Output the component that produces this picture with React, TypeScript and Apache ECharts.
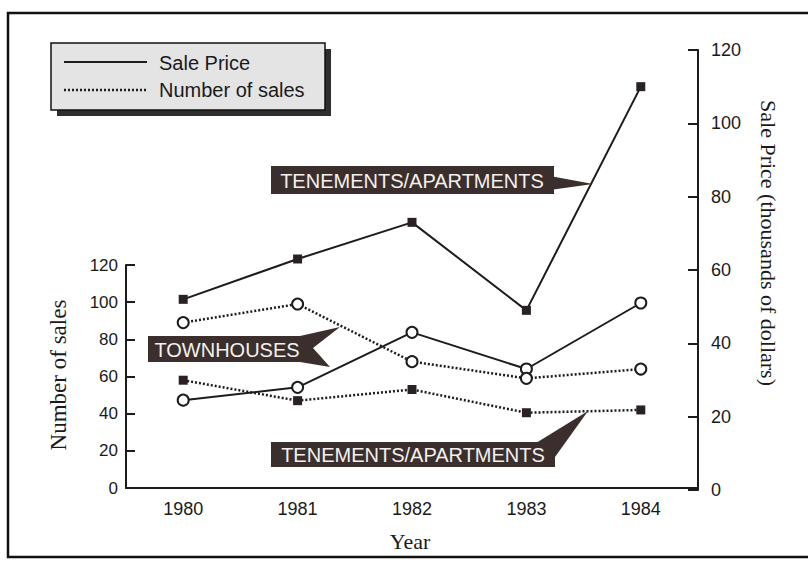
import React, { useEffect, useRef } from "react";
import * as echarts from "echarts";

const years = ["1980", "1981", "1982", "1983", "1984"];
// Sale price (thousands of dollars) — right axis
const priceTenements = [52, 63, 73, 49, 110];
const priceTownhouses = [24.5, 28, 43, 33, 51];
// Number of sales — left axis
const salesTenements = [58, 47, 53, 40.5, 42];
const salesTownhouses = [89, 99, 68, 59, 64];

const INK = "#1c1c1c";
const SANS = "'Liberation Sans', Arial, sans-serif";
const SERIF = "'Liberation Serif', 'Times New Roman', serif";
const CALLOUT = "#3a2f2c";

export default function App() {
  const ref = useRef<HTMLDivElement>(null);
  useEffect(() => {
    document.body.style.margin = "0";
    const chart = echarts.init(ref.current!, null, { renderer: "svg" });
    const solid = { color: INK, width: 2, type: "solid" as const };
    const dotted = { color: INK, width: 2.5, type: [2, 2] as any };
    const rectSym = { symbol: "rect", symbolSize: 9, itemStyle: { color: "#2a2222", borderWidth: 0 } };
    const circSym = {
      symbol: "circle",
      symbolSize: 11,
      itemStyle: { color: "#ffffff", borderColor: INK, borderWidth: 2 },
    };
    chart.setOption({
      animation: false,
      backgroundColor: "#ffffff",
      grid: [
        { left: 126, right: 110, top: 50, bottom: 72 },
        { left: 126, right: 110, top: 265, bottom: 74 },
      ],
      xAxis: [
        { gridIndex: 0, type: "category", data: years, show: false },
        {
          gridIndex: 1,
          type: "category",
          data: years,
          axisLine: { lineStyle: { color: INK, width: 2 } },
          axisTick: { show: false },
          axisLabel: { fontSize: 18, color: "#1a1a1a", fontFamily: SANS, margin: 12 },
        },
      ],
      yAxis: [
        {
          gridIndex: 0,
          type: "value",
          position: "right",
          min: 0,
          max: 120,
          interval: 20,
          splitLine: { show: false },
          axisLine: { show: true, lineStyle: { color: INK, width: 2 } },
          axisTick: { show: true, inside: true, length: 10, lineStyle: { color: INK, width: 2 } },
          axisLabel: { fontSize: 18, color: "#1a1a1a", fontFamily: SANS, margin: 13 },
        },
        {
          gridIndex: 1,
          type: "value",
          position: "left",
          min: 0,
          max: 120,
          interval: 20,
          splitLine: { show: false },
          axisLine: { show: true, lineStyle: { color: INK, width: 2 } },
          axisTick: { show: true, inside: true, length: 9, lineStyle: { color: INK, width: 2 } },
          axisLabel: { fontSize: 17, color: "#1a1a1a", fontFamily: SANS, margin: 8 },
        },
      ],
      series: [
        {
          name: "Sale Price Tenements",
          type: "line",
          xAxisIndex: 0,
          yAxisIndex: 0,
          data: priceTenements,
          lineStyle: solid,
          ...rectSym,
          z: 3,
        },
        {
          name: "Sale Price Townhouses",
          type: "line",
          xAxisIndex: 0,
          yAxisIndex: 0,
          data: priceTownhouses,
          lineStyle: solid,
          ...circSym,
          z: 3,
        },
        {
          name: "Sales Tenements",
          type: "line",
          xAxisIndex: 1,
          yAxisIndex: 1,
          data: salesTenements,
          lineStyle: dotted,
          ...rectSym,
          z: 3,
        },
        {
          name: "Sales Townhouses",
          type: "line",
          xAxisIndex: 1,
          yAxisIndex: 1,
          data: salesTownhouses,
          lineStyle: dotted,
          ...circSym,
          z: 3,
        },
      ],
      graphic: [
        // outer frame
        {
          type: "rect",
          shape: { x: 8, y: 13, width: 806, height: 544 },
          style: { fill: "none", stroke: "#111", lineWidth: 2.5 },
          z: 1,
        },
        // legend shadow + box
        {
          type: "rect",
          shape: { x: 57, y: 49, width: 274, height: 67 },
          style: { fill: "#2e2e2e" },
          z: 5,
        },
        {
          type: "rect",
          shape: { x: 51, y: 43, width: 274, height: 67 },
          style: { fill: "#e4e4e4", stroke: "#111", lineWidth: 1.5 },
          z: 6,
        },
        {
          type: "line",
          shape: { x1: 64, y1: 62, x2: 147, y2: 62 },
          style: { stroke: INK, lineWidth: 2 },
          z: 7,
        },
        {
          type: "line",
          shape: { x1: 64, y1: 90, x2: 147, y2: 90 },
          style: { stroke: INK, lineWidth: 2.5, lineDash: [2, 2] },
          z: 7,
        },
        {
          type: "text",
          x: 159,
          y: 63,
          style: { text: "Sale Price", font: `20px ${SANS}`, fill: "#1a1a1a", verticalAlign: "middle" },
          z: 7,
        },
        {
          type: "text",
          x: 159,
          y: 90,
          style: { text: "Number of sales", font: `20px ${SANS}`, fill: "#1a1a1a", verticalAlign: "middle" },
          z: 7,
        },
        // axis titles
        {
          type: "text",
          x: 58,
          y: 375,
          rotation: Math.PI / 2,
          style: { text: "Number of sales", font: `23px ${SERIF}`, fill: "#1a1a1a", align: "center", verticalAlign: "middle" },
          z: 7,
        },
        {
          type: "text",
          x: 768,
          y: 243,
          rotation: -Math.PI / 2,
          style: {
            text: "Sale Price (thousands of dollars)",
            font: `22px ${SERIF}`,
            fill: "#1a1a1a",
            align: "center",
            verticalAlign: "middle",
          },
          z: 7,
        },
        {
          type: "text",
          x: 410,
          y: 541,
          style: { text: "Year", font: `22px ${SERIF}`, fill: "#1a1a1a", align: "center", verticalAlign: "middle" },
          z: 7,
        },
        // upper callout
        {
          type: "polygon",
          shape: { points: [[550, 176], [593, 184], [550, 190]] },
          style: { fill: CALLOUT },
          z: 8,
        },
        {
          type: "rect",
          shape: { x: 271, y: 166, width: 283, height: 28 },
          style: { fill: CALLOUT },
          z: 8,
        },
        {
          type: "text",
          x: 412,
          y: 181,
          style: {
            text: "TENEMENTS/APARTMENTS",
            font: `20px ${SANS}`,
            fill: "#f4f0ee",
            align: "center",
            verticalAlign: "middle",
          },
          z: 9,
        },
        // townhouses callout
        {
          type: "polygon",
          shape: { points: [[300, 336], [340, 327], [313, 348], [330, 367], [300, 362]] },
          style: { fill: CALLOUT },
          z: 8,
        },
        {
          type: "rect",
          shape: { x: 148, y: 336, width: 156, height: 26 },
          style: { fill: CALLOUT },
          z: 8,
        },
        {
          type: "text",
          x: 227,
          y: 350,
          style: { text: "TOWNHOUSES", font: `20px ${SANS}`, fill: "#f4f0ee", align: "center", verticalAlign: "middle" },
          z: 9,
        },
        // lower callout
        {
          type: "polygon",
          shape: { points: [[536, 443], [588, 411], [555, 457]] },
          style: { fill: CALLOUT },
          z: 8,
        },
        {
          type: "rect",
          shape: { x: 271, y: 442, width: 284, height: 25 },
          style: { fill: CALLOUT },
          z: 8,
        },
        {
          type: "text",
          x: 413,
          y: 455,
          style: {
            text: "TENEMENTS/APARTMENTS",
            font: `20px ${SANS}`,
            fill: "#f4f0ee",
            align: "center",
            verticalAlign: "middle",
          },
          z: 9,
        },
      ],
    });
    return () => chart.dispose();
  }, []);
  return <div ref={ref} style={{ width: 808, height: 562 }} />;
}
